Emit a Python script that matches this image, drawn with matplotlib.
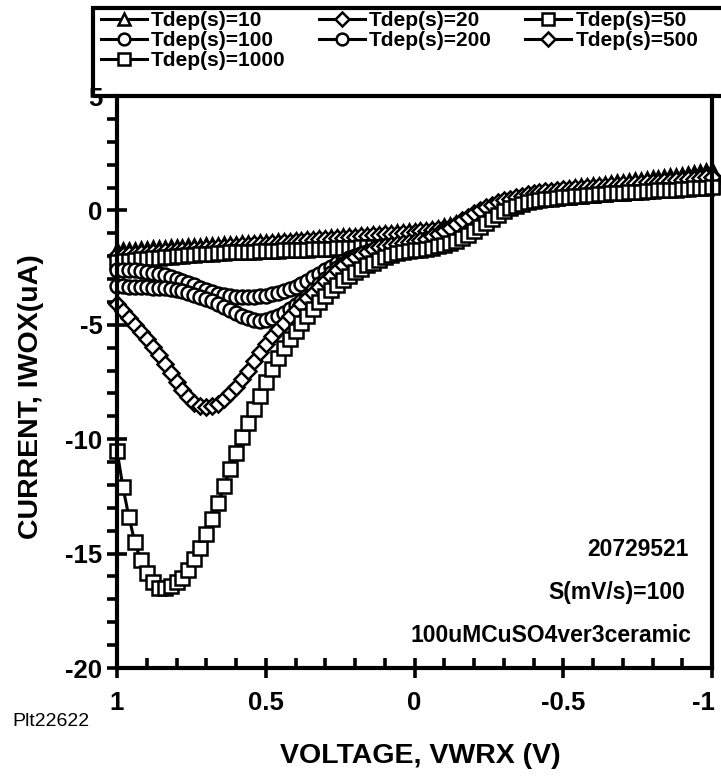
import numpy as np
import matplotlib
matplotlib.use('Agg')
import matplotlib.pyplot as plt
from matplotlib.ticker import MultipleLocator
from matplotlib.patches import Rectangle
from matplotlib.transforms import ScaledTranslation

plt.rcParams['font.family'] = ['Liberation Sans', 'DejaVu Sans']
plt.rcParams['font.weight'] = 'bold'

# sweep voltage, 1 V down to -1 V in 20 mV steps
volt = np.round(np.arange(1.0, -1.0001, -0.02), 2)

# current (uA) for each deposition time
i_10 = [-1.75, -1.74, -1.72, -1.71, -1.69, -1.68, -1.66, -1.65, -1.63, -1.62,
        -1.60, -1.59, -1.57, -1.56, -1.54, -1.53, -1.51, -1.50, -1.48, -1.47,
        -1.45, -1.44, -1.42, -1.41, -1.39, -1.38, -1.36, -1.35, -1.33, -1.32,
        -1.30, -1.28, -1.26, -1.24, -1.22, -1.20, -1.18, -1.16, -1.14, -1.12,
        -1.10, -1.08, -1.06, -1.04, -1.02, -1.00, -0.98, -0.96, -0.94, -0.92,
        -0.90, -0.87, -0.84, -0.80, -0.76, -0.70, -0.63, -0.55, -0.47, -0.39,
        -0.30, -0.19, -0.08, 0.03, 0.14, 0.25, 0.35, 0.45, 0.54, 0.62,
        0.70, 0.76, 0.81, 0.86, 0.90, 0.95, 0.98, 1.02, 1.05, 1.08,
        1.10, 1.13, 1.16, 1.19, 1.22, 1.25, 1.28, 1.31, 1.34, 1.37,
        1.40, 1.43, 1.46, 1.49, 1.52, 1.55, 1.59, 1.63, 1.67, 1.71,
        1.75]
i_20 = [-1.95, -1.93, -1.91, -1.89, -1.87, -1.85, -1.83, -1.81, -1.79, -1.77,
        -1.75, -1.73, -1.71, -1.69, -1.67, -1.65, -1.63, -1.61, -1.59, -1.57,
        -1.55, -1.53, -1.51, -1.49, -1.47, -1.45, -1.43, -1.41, -1.39, -1.37,
        -1.35, -1.33, -1.31, -1.29, -1.27, -1.25, -1.23, -1.21, -1.19, -1.17,
        -1.15, -1.13, -1.11, -1.09, -1.07, -1.05, -1.03, -1.01, -0.99, -0.97,
        -0.95, -0.92, -0.89, -0.86, -0.82, -0.77, -0.71, -0.64, -0.56, -0.47,
        -0.38, -0.28, -0.18, -0.08, 0.02, 0.12, 0.21, 0.30, 0.38, 0.45,
        0.52, 0.58, 0.63, 0.68, 0.72, 0.76, 0.80, 0.83, 0.86, 0.89,
        0.92, 0.95, 0.98, 1.01, 1.04, 1.07, 1.10, 1.13, 1.16, 1.19,
        1.22, 1.25, 1.28, 1.31, 1.34, 1.37, 1.40, 1.43, 1.46, 1.49,
        1.52]
i_50 = [-2.25, -2.22, -2.20, -2.17, -2.14, -2.12, -2.09, -2.07, -2.04, -2.02,
        -2.00, -1.98, -1.96, -1.94, -1.92, -1.90, -1.89, -1.87, -1.86, -1.84,
        -1.83, -1.82, -1.81, -1.80, -1.79, -1.78, -1.77, -1.76, -1.75, -1.74,
        -1.73, -1.72, -1.71, -1.70, -1.69, -1.68, -1.67, -1.66, -1.65, -1.64,
        -1.63, -1.62, -1.61, -1.60, -1.59, -1.58, -1.57, -1.56, -1.55, -1.53,
        -1.50, -1.46, -1.40, -1.32, -1.22, -1.10, -0.96, -0.80, -0.64, -0.48,
        -0.33, -0.20, -0.08, 0.02, 0.11, 0.19, 0.26, 0.32, 0.37, 0.41,
        0.45, 0.48, 0.51, 0.54, 0.56, 0.58, 0.60, 0.62, 0.64, 0.66,
        0.68, 0.70, 0.72, 0.74, 0.76, 0.78, 0.80, 0.82, 0.84, 0.86,
        0.88, 0.90, 0.92, 0.94, 0.96, 0.98, 1.00, 1.02, 1.04, 1.06,
        1.08]
i_100 = [-2.60, -2.60, -2.60, -2.62, -2.65, -2.68, -2.72, -2.77, -2.83, -2.90,
         -2.98, -3.07, -3.17, -3.28, -3.40, -3.50, -3.58, -3.65, -3.71, -3.76,
         -3.79, -3.80, -3.80, -3.78, -3.75, -3.72, -3.67, -3.61, -3.53, -3.44,
         -3.34, -3.22, -3.08, -2.93, -2.77, -2.61, -2.46, -2.32, -2.19, -2.08,
         -1.98, -1.90, -1.83, -1.77, -1.72, -1.68, -1.64, -1.60, -1.57, -1.54,
         -1.50, -1.45, -1.39, -1.31, -1.21, -1.09, -0.95, -0.80, -0.64, -0.48,
         -0.32, -0.17, -0.04, 0.08, 0.18, 0.27, 0.35, 0.42, 0.48, 0.53,
         0.57, 0.61, 0.64, 0.67, 0.70, 0.72, 0.74, 0.76, 0.78, 0.80,
         0.82, 0.84, 0.86, 0.88, 0.90, 0.92, 0.94, 0.96, 0.98, 1.00,
         1.02, 1.04, 1.06, 1.08, 1.10, 1.12, 1.14, 1.16, 1.18, 1.20,
         1.22]
i_200 = [-3.30, -3.32, -3.33, -3.34, -3.35, -3.36, -3.37, -3.39, -3.41, -3.44,
         -3.48, -3.53, -3.60, -3.68, -3.77, -3.87, -3.98, -4.10, -4.22, -4.35,
         -4.48, -4.60, -4.72, -4.80, -4.82, -4.78, -4.70, -4.60, -4.48, -4.33,
         -4.15, -3.95, -3.72, -3.48, -3.23, -2.98, -2.74, -2.52, -2.33, -2.16,
         -2.02, -1.90, -1.80, -1.72, -1.65, -1.59, -1.54, -1.50, -1.46, -1.42,
         -1.38, -1.33, -1.27, -1.19, -1.09, -0.97, -0.83, -0.68, -0.52, -0.36,
         -0.21, -0.07, 0.06, 0.17, 0.27, 0.36, 0.44, 0.51, 0.57, 0.62,
         0.66, 0.70, 0.73, 0.76, 0.79, 0.81, 0.83, 0.85, 0.87, 0.89,
         0.91, 0.93, 0.95, 0.97, 0.99, 1.01, 1.03, 1.05, 1.07, 1.09,
         1.11, 1.13, 1.15, 1.17, 1.19, 1.21, 1.23, 1.25, 1.27, 1.29,
         1.31]
i_500 = [-4.10, -4.40, -4.70, -5.00, -5.30, -5.60, -5.95, -6.30, -6.70, -7.10,
         -7.50, -7.85, -8.15, -8.40, -8.55, -8.60, -8.55, -8.45, -8.25, -8.00,
         -7.70, -7.35, -7.00, -6.60, -6.20, -5.85, -5.50, -5.20, -4.90, -4.60,
         -4.35, -4.10, -3.85, -3.60, -3.35, -3.10, -2.85, -2.60, -2.40, -2.20,
         -2.05, -1.90, -1.80, -1.70, -1.62, -1.56, -1.50, -1.45, -1.42, -1.38,
         -1.35, -1.30, -1.23, -1.14, -1.03, -0.90, -0.75, -0.59, -0.43, -0.27,
         -0.12, 0.02, 0.14, 0.25, 0.35, 0.44, 0.52, 0.59, 0.65, 0.70,
         0.75, 0.79, 0.83, 0.86, 0.89, 0.92, 0.95, 0.98, 1.00, 1.02,
         1.04, 1.06, 1.08, 1.10, 1.12, 1.14, 1.16, 1.18, 1.20, 1.22,
         1.24, 1.26, 1.28, 1.30, 1.32, 1.34, 1.36, 1.38, 1.41, 1.44,
         1.47]
i_1000 = [-10.5, -12.1, -13.4, -14.5, -15.3, -15.85, -16.25, -16.5, -16.5, -16.4,
          -16.25, -16.05, -15.7, -15.25, -14.75, -14.15, -13.5, -12.8, -12.05, -11.3,
          -10.6, -9.9, -9.3, -8.7, -8.1, -7.5, -6.95, -6.45, -6.0, -5.6,
          -5.25, -4.9, -4.6, -4.3, -4.0, -3.75, -3.5, -3.25, -3.05, -2.85,
          -2.7, -2.55, -2.4, -2.28, -2.15, -2.05, -1.95, -1.88, -1.82, -1.78,
          -1.75, -1.72, -1.68, -1.63, -1.57, -1.5, -1.42, -1.33, -1.22, -1.08,
          -0.92, -0.74, -0.55, -0.36, -0.18, -0.03, 0.1, 0.2, 0.28, 0.35,
          0.4, 0.44, 0.48, 0.51, 0.54, 0.57, 0.6, 0.62, 0.64, 0.66,
          0.68, 0.7, 0.72, 0.74, 0.75, 0.77, 0.79, 0.8, 0.82, 0.83,
          0.85, 0.87, 0.88, 0.9, 0.91, 0.93, 0.95, 0.96, 0.98, 1.0,
          1.02]

labels = ['Tdep(s)=10', 'Tdep(s)=20', 'Tdep(s)=50', 'Tdep(s)=100',
          'Tdep(s)=200', 'Tdep(s)=500', 'Tdep(s)=1000']
series = [i_10, i_20, i_50, i_100, i_200, i_500, i_1000]
markers = ['^', 'D', 's', 'o', 'o', 'D', 's']
msizes = [10, 8, 9.5, 10, 10, 8, 9.5]

xticks = [1, 0.5, 0, -0.5, -1]
xticklabels = ['1', '0.5', '0', '-0.5', '-1']
yticks = [5, 0, -5, -10, -15, -20]
yticklabels = ['5', '0', '-5', '-10', '-15', '-20']

W, H = 721, 778
fig = plt.figure(figsize=(W / 100, H / 100), dpi=100)
ax = fig.add_axes([117 / W, 1 - 668 / H, (712 - 117) / W, (668 - 96) / H])

lines = []
for y, m, ms, lab in zip(series, markers, msizes, labels):
    ln, = ax.plot(volt, y, color='black', lw=2.2, marker=m, ms=ms,
                  mfc='white', mec='black', mew=1.8, label=lab, clip_on=False)
    lines.append(ln)

ax.set_xlim(1, -1)
ax.set_ylim(-20, 5)
ax.set_xticks(xticks)
ax.set_xticklabels(xticklabels)
ax.set_yticks(yticks)
ax.set_yticklabels(yticklabels)
ax.xaxis.set_minor_locator(MultipleLocator(0.1))
ax.yaxis.set_minor_locator(MultipleLocator(1))

ax.tick_params(which='major', direction='inout', length=15, width=2.6,
               labelsize=18.5, top=False, right=False)
ax.tick_params(axis='x', which='major', pad=9)
ax.tick_params(axis='y', which='major', pad=3)
ax.tick_params(axis='x', which='minor', direction='in', length=7, width=2.6, top=False)
ax.tick_params(axis='y', which='minor', direction='out', length=7, width=2.6, right=False)

# last x label sits at the figure edge, nudge it in a little
last = ax.get_xticklabels()[-1]
last.set_transform(last.get_transform() + ScaledTranslation(-6 / 72, 0, fig.dpi_scale_trans))

for s in ['left', 'bottom', 'right']:
    ax.spines[s].set_linewidth(3)
ax.spines['top'].set_visible(False)

ax.set_xlabel('VOLTAGE, VWRX (V)', fontsize=20.5, fontweight='bold')
ax.xaxis.set_label_coords(0.51, -0.153)
ax.xaxis.label.set_va('center')
ax.set_ylabel('CURRENT, IWOX(uA)', fontsize=20.5, fontweight='bold')
ax.yaxis.set_label_coords(-0.145, 0.475)
ax.yaxis.label.set_va('center')

ax.text(-0.92, -14.8, '20729521', ha='right', va='center', fontsize=16.5, fontweight='bold')
ax.text(-0.91, -16.7, 'S(mV/s)=100', ha='right', va='center', fontsize=16.5, fontweight='bold')
ax.text(-0.93, -18.6, '100uMCuSO4ver3ceramic', ha='right', va='center', fontsize=16.5,
        fontweight='bold')

fig.text(12 / W, 1 - 722 / H, 'Plt22622', ha='left', va='center', fontsize=14,
         fontweight='normal')

# legend box across the top
box = Rectangle((93 / W, 1 - 96 / H), (740 - 93) / W, 88 / H, transform=fig.transFigure,
                fill=False, lw=3, ec='black', clip_on=False)
fig.add_artist(box)

order = [0, 3, 6, 1, 4, 2, 5]
fig.legend([lines[k] for k in order], [labels[k] for k in order], ncol=3,
           loc='upper left', bbox_to_anchor=(97 / W, 1 - 7 / H), frameon=False,
           fontsize=15, handlelength=2.2, handletextpad=0.2, columnspacing=1.6,
           labelspacing=0.05, borderpad=0.2, borderaxespad=0, markerscale=0.85)

fig.savefig('out.png', dpi=100)
